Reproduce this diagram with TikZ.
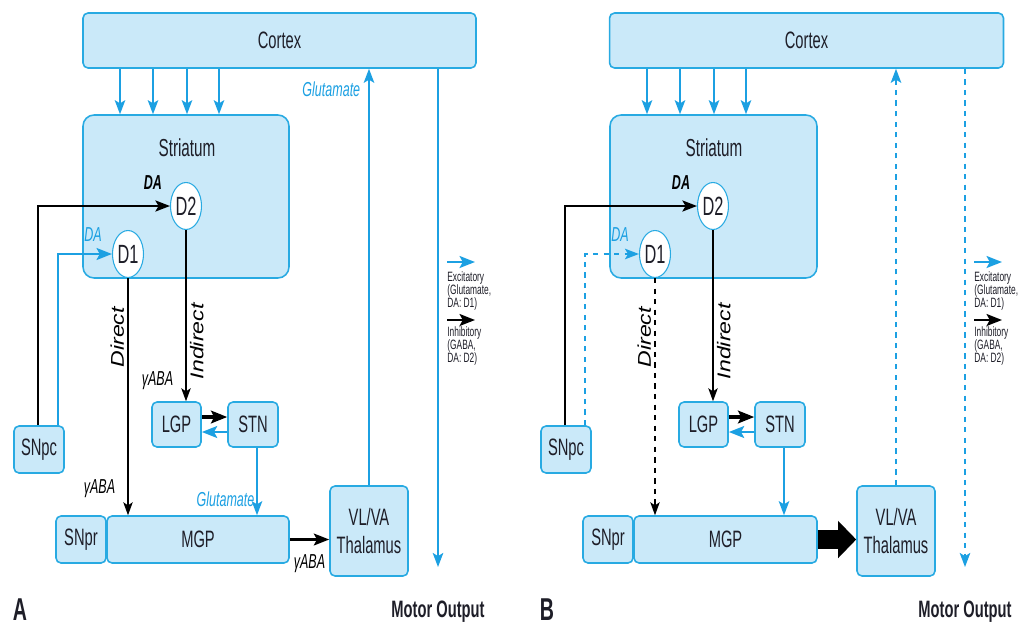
\documentclass[tikz,border=0pt]{standalone}
\usepackage{fontspec}
\setmainfont{Liberation Sans}[FakeStretch=0.62]
\newfontfamily\rotfont{Liberation Sans}[FakeStretch=1.25]
\usetikzlibrary{arrows,arrows.meta,shapes.geometric,positioning}
\definecolor{boxfill}{RGB}{202,233,249}
\definecolor{boxline}{RGB}{40,170,226}
\definecolor{excblue}{RGB}{28,160,226}
\definecolor{ink}{RGB}{30,30,40}
\tikzset{
  region/.style = {fill = boxfill, draw = boxline, line width = 0.9pt, rounded corners = 0.1cm, inner sep = 0pt, text = ink, font = \fontsize{13.5}{15.5}\selectfont},
  recep/.style = {ellipse, fill = white, draw = boxline, line width = 0.6pt, minimum width = 0.62cm, minimum height = 0.94cm, inner sep = 0pt, text = ink, font = \fontsize{15}{16}\selectfont},
  exc/.style = {excblue, line width = 1pt},
  inh/.style = {black, line width = 0.6pt},
  lab/.style = {font = \fontsize{11.5}{13}\selectfont\itshape, inner sep = 1pt},
  dalab/.style = {font = \fontsize{11.5}{13}\selectfont\itshape, inner sep = 0pt},
  vlab/.style = {font = \rotfont\fontsize{10.5}{12}\selectfont\itshape, rotate = 90, inner sep = 2pt},
  legtext/.style = {font = \fontsize{7.7}{7.4}\selectfont, align = left, text = ink, inner sep = 0pt},
  title/.style = {font = \fontsize{13.5}{15}\selectfont\bfseries, text = ink},
}
\begin{document}
\begin{tikzpicture}[> = {Stealth[length = 6.5pt 1.5, width = 4.5pt 1.5, inset = 1.8pt]}, x = 0.02cm, y = -0.02cm]
    \useasboundingbox (0,0) rectangle (1035,629);
    % panel A
    \node at (279.5,40.5) [region, minimum width = 7.86cm, minimum height = 1.1cm] (cortA) {Cortex};
    \node at (186,196.5) [region, rounded corners = 0.22cm, minimum width = 4.12cm, minimum height = 3.26cm] (strA) {};
    \node at (187,148) [text = ink, font = \fontsize{14}{16}\selectfont] (strlabA) {Striatum};
    \node at (186,206) [recep] (d2A) {D2};
    \node at (128,254) [recep] (d1A) {D1};
    \node at (39,449.5) [region, minimum width = 1cm, minimum height = 0.94cm] (snpcA) {SNpc};
    \node at (176.5,424.5) [region, minimum width = 0.98cm, minimum height = 0.9cm] (lgpA) {LGP};
    \node at (253,424.5) [region, minimum width = 1cm, minimum height = 0.9cm] (stnA) {STN};
    \node at (81,539.5) [region, minimum width = 1cm, minimum height = 0.94cm] (snprA) {SNpr};
    \node at (198,539.5) [region, minimum width = 3.64cm, minimum height = 0.94cm] (mgpA) {MGP};
    \node at (369,531) [region, minimum width = 1.56cm, minimum height = 1.8cm, align = center] (thalA) {VL/VA\\Thalamus};
    \node at (153,183) [dalab, font = \fontsize{11.5}{13}\selectfont\bfseries\itshape] (da2A) {DA};
    \node at (93,235) [dalab, excblue] (da1A) {DA};
    \foreach \x in {120,153,187,219}
      \draw[exc, ->] (cortA.south -| \x,0) -- (strA.north -| \x,0);
    \draw[inh, ->, line width = 1.2pt] (snpcA.north -| 38,0) |- (d2A.west);
    \draw[exc, ->, line width = 1.5pt] (snpcA.north -| 58,0) |- (d1A.west);
    \draw[inh, ->] (d1A.south) -- (mgpA.north -| d1A.south) node[vlab, pos = 0.25, anchor = south] {Direct} node[lab, pos = 0.89, left = 6pt] {γABA};
    \draw[inh, ->] (d2A.south) -- (lgpA.north -| d2A.south) node[vlab, pos = 0.65, anchor = north] {Indirect} node[lab, pos = 0.88, left = 6pt] {γABA};
    \draw[inh, ->, line width = 1.8pt] ([yshift = 0.15cm]lgpA.east) -- ([yshift = 0.15cm]stnA.west);
    \draw[exc, ->, line width = 1.5pt] ([yshift = -0.15cm]stnA.west) -- ([yshift = -0.15cm]lgpA.east);
    \draw[exc, ->] (stnA.south -| 257,0) -- (mgpA.north -| 257,0) node[lab, pos = 0.77, left] {Glutamate};
    \draw[inh, ->, line width = 1.5pt] (mgpA.east) -- (mgpA.east -| thalA.west) node[lab, midway, below = 7pt] {γABA};
    \draw[exc, ->] (thalA.north) -- (cortA.south -| thalA.north) node[lab, pos = 0.95, left = 3.5pt] {Glutamate};
    \coordinate (outA) at (438,567);
    \draw[exc, ->] (cortA.south -| outA) -- (outA);
    \node at (447,271) [legtext, anchor = north west] (excA) {Excitatory\\(Glutamate,\\DA: D1)};
    \draw[exc, ->, line width = 1.5pt] (excA.north west) ++(0,-9) -- ++(28,0);
    \node at (447,326) [legtext, anchor = north west] (inhA) {Inhibitory\\(GABA,\\DA: D2)};
    \draw[inh, ->, line width = 1.5pt] (inhA.north west) ++(0,-6) -- ++(28,0);
    \node at (20,610) [title, font = \fontsize{18}{20}\selectfont\bfseries] (labA) {A};
    \node at (438,612) [title] (motA) {Motor Output};
    % panel B
    \node at (806.5,40.5) [region, minimum width = 7.88cm, minimum height = 1.1cm] (cortB) {Cortex};
    \node at (713.5,196.5) [region, rounded corners = 0.22cm, minimum width = 4.14cm, minimum height = 3.26cm] (strB) {};
    \node at (714,148) [text = ink, font = \fontsize{14}{16}\selectfont] (strlabB) {Striatum};
    \node at (713,206) [recep] (d2B) {D2};
    \node at (655,254) [recep] (d1B) {D1};
    \node at (566,449.5) [region, minimum width = 1cm, minimum height = 0.94cm] (snpcB) {SNpc};
    \node at (703.5,424.5) [region, minimum width = 0.98cm, minimum height = 0.9cm] (lgpB) {LGP};
    \node at (780,424.5) [region, minimum width = 1cm, minimum height = 0.9cm] (stnB) {STN};
    \node at (608,539.5) [region, minimum width = 1cm, minimum height = 0.94cm] (snprB) {SNpr};
    \node at (725.5,539.5) [region, minimum width = 3.66cm, minimum height = 0.94cm] (mgpB) {MGP};
    \node at (896,531) [region, minimum width = 1.56cm, minimum height = 1.8cm, align = center] (thalB) {VL/VA\\Thalamus};
    \node at (681,183) [dalab, font = \fontsize{11.5}{13}\selectfont\bfseries\itshape] (da2B) {DA};
    \node at (620,235) [dalab, excblue] (da1B) {DA};
    \foreach \x in {647,680,714,746}
      \draw[exc, ->] (cortB.south -| \x,0) -- (strB.north -| \x,0);
    \draw[inh, ->, line width = 1.2pt] (snpcB.north -| 565,0) |- (d2B.west);
    \draw[exc, ->, dashed] (snpcB.north -| 585,0) |- (d1B.west);
    \draw[inh, ->, dashed] (d1B.south) -- (mgpB.north -| d1B.south) node[vlab, pos = 0.25, anchor = south] {Direct};
    \draw[inh, ->] (d2B.south) -- (lgpB.north -| d2B.south) node[vlab, pos = 0.65, anchor = north] {Indirect};
    \draw[inh, ->, line width = 1.8pt] ([yshift = 0.15cm]lgpB.east) -- ([yshift = 0.15cm]stnB.west);
    \draw[exc, ->, line width = 1.5pt] ([yshift = -0.15cm]stnB.west) -- ([yshift = -0.15cm]lgpB.east);
    \draw[exc, ->] (stnB.south -| 784,0) -- (mgpB.north -| 784,0);
    \draw[black, line width = 0.38cm, -{Triangle[length = 0.36cm, width = 0.72cm]}] (mgpB.east) -- (mgpB.east -| thalB.west);
    \draw[exc, ->, dashed] (thalB.north) -- (cortB.south -| thalB.north);
    \coordinate (outB) at (965,567);
    \draw[exc, ->, dashed] (cortB.south -| outB) -- (outB);
    \node at (974,271) [legtext, anchor = north west] (excB) {Excitatory\\(Glutamate,\\DA: D1)};
    \draw[exc, ->, line width = 1.5pt] (excB.north west) ++(0,-9) -- ++(28,0);
    \node at (974,326) [legtext, anchor = north west] (inhB) {Inhibitory\\(GABA,\\DA: D2)};
    \draw[inh, ->, line width = 1.5pt] (inhB.north west) ++(0,-6) -- ++(28,0);
    \node at (547,610) [title, font = \fontsize{18}{20}\selectfont\bfseries] (labB) {B};
    \node at (965,612) [title] (motB) {Motor Output};
\end{tikzpicture}
\end{document}
